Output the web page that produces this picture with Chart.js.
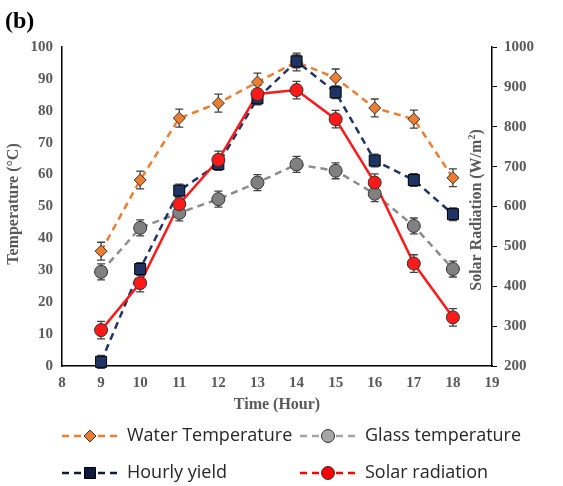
<!DOCTYPE html>
<html>
<head>
<meta charset="utf-8">
<script src="https://cdn.jsdelivr.net/npm/chart.js@4.4.0/dist/chart.umd.min.js"></script>
<style>
  html, body { margin: 0; padding: 0; background: #fff; }
  #wrap { width: 563px; height: 486px; }
</style>
</head>
<body>
<div id="wrap"><canvas id="chart" width="563" height="486"></canvas></div>
<script>
// données
const hours = [9, 10, 11, 12, 13, 14, 15, 16, 17, 18];
const waterTemp = [36, 58.3, 77.7, 82.4, 89, 95.3, 90.3, 80.9, 77.4, 59];
const glassTemp = [29.5, 43.3, 48, 52.3, 57.5, 63.2, 61.2, 54, 43.9, 30.4];
const hourlyYield = [1.3, 30.4, 55, 63.3, 83.9, 95.5, 85.8, 64.4, 58.3, 47.6];
const solarRad = [290, 408, 606, 717, 882, 892, 819, 660, 457, 322];
const waterErr = [2.8, 2.8, 2.8, 2.8, 2.8, 2.8, 2.8, 2.8, 2.8, 2.8];
const glassErr = [2.5, 2.5, 2.5, 2.5, 2.5, 2.5, 2.5, 2.5, 2.5, 2.5];
const yieldErr = [2, 2, 2, 2, 2, 2, 2, 2, 2, 2];
const solarErr = [22, 22, 22, 22, 22, 22, 22, 22, 22, 22];
const xTicks = [8, 19];
const leftTicks = [0, 100];
const rightTicks = [200, 1000];

const tickFont = { family: 'Liberation Serif', weight: 'bold', size: 15 };
const grey = '#595959';

function pts(ys) { return hours.map((h, i) => ({ x: h, y: ys[i] })); }

// barres d'erreur dessinées avec les échelles du graphique
const errorBars = {
  id: 'errorBars',
  afterDatasetsDraw(chart) {
    const ctx = chart.ctx;
    const xs = chart.scales.x;
    ctx.save();
    ctx.strokeStyle = '#404040';
    ctx.lineWidth = 1.3;
    chart.data.datasets.forEach(ds => {
      const ys = chart.scales[ds.yAxisID];
      ds.data.forEach((p, i) => {
        const e = ds.err[i];
        const x = xs.getPixelForValue(p.x);
        const y1 = ys.getPixelForValue(p.y - e);
        const y2 = ys.getPixelForValue(p.y + e);
        ctx.beginPath();
        ctx.moveTo(x, y1); ctx.lineTo(x, y2);
        ctx.moveTo(x - 4, y1); ctx.lineTo(x + 4, y1);
        ctx.moveTo(x - 4, y2); ctx.lineTo(x + 4, y2);
        ctx.stroke();
      });
    });
    ctx.restore();
  }
};

// marqueurs redessinés au-dessus des barres d'erreur
function drawMarker(ctx, style, x, y, fill, border) {
  ctx.fillStyle = fill;
  ctx.strokeStyle = border;
  ctx.lineWidth = 1;
  ctx.setLineDash([]);
  ctx.beginPath();
  if (style === 'rectRot') {
    const r = 6;
    ctx.moveTo(x, y - r); ctx.lineTo(x + r, y); ctx.lineTo(x, y + r); ctx.lineTo(x - r, y); ctx.closePath();
  } else if (style === 'rect') {
    ctx.rect(x - 5.5, y - 5.5, 11, 11);
  } else {
    ctx.arc(x, y, 6.5, 0, Math.PI * 2);
  }
  ctx.fill();
  ctx.stroke();
}

const markersOnTop = {
  id: 'markersOnTop',
  afterDraw(chart) {
    const ctx = chart.ctx;
    ctx.save();
    const order = [1, 0, 2, 3];
    order.forEach(di => {
      const ds = chart.data.datasets[di];
      const meta = chart.getDatasetMeta(di);
      meta.data.forEach(el => {
        drawMarker(ctx, ds.pointStyle, el.x, el.y, ds.pointBackgroundColor, ds.pointBorderColor);
      });
    });
    ctx.restore();
  }
};

// textes : (b), titres d'axes, légende
const extras = {
  id: 'extras',
  afterDraw(chart) {
    const ctx = chart.ctx;
    const a = chart.chartArea;
    ctx.save();
    ctx.fillStyle = '#000';
    ctx.font = 'bold 24px "Liberation Serif"';
    ctx.textAlign = 'left';
    ctx.textBaseline = 'alphabetic';
    ctx.fillText('(b)', 5, 28);

    ctx.fillStyle = grey;
    ctx.font = 'bold 16px "Liberation Serif"';
    ctx.textAlign = 'center';
    ctx.textBaseline = 'middle';
    ctx.fillText('Time (Hour)', (a.left + a.right) / 2, 405);

    ctx.save();
    ctx.translate(14, 204);
    ctx.rotate(-Math.PI / 2);
    ctx.fillText('Temperature (°C)', 0, 0);
    ctx.restore();

    // titre de droite avec exposant
    ctx.save();
    ctx.translate(477, 210);
    ctx.rotate(-Math.PI / 2);
    const main = 'Solar Radiation (W/m';
    ctx.font = 'bold 16px "Liberation Serif"';
    const wMain = ctx.measureText(main).width;
    ctx.font = 'bold 10px "Liberation Serif"';
    const wSup = ctx.measureText('2').width;
    ctx.font = 'bold 16px "Liberation Serif"';
    const wEnd = ctx.measureText(')').width;
    const total = wMain + wSup + wEnd;
    let sx = -total / 2;
    ctx.textAlign = 'left';
    ctx.fillText(main, sx, 0);
    sx += wMain;
    ctx.font = 'bold 10px "Liberation Serif"';
    ctx.fillText('2', sx, -5);
    sx += wSup;
    ctx.font = 'bold 16px "Liberation Serif"';
    ctx.fillText(')', sx, 0);
    ctx.restore();

    const items = [
      { label: 'Water Temperature', line: '#ED7D31', style: 'rectRot', fill: '#ED7D31', border: '#333', x: 62, y: 436 },
      { label: 'Glass temperature', line: '#A5A5A5', style: 'circle', fill: '#A5A5A5', border: '#333', x: 300, y: 436 },
      { label: 'Hourly yield', line: '#0E1A3C', style: 'rect', fill: '#0E1A3C', border: '#000', x: 62, y: 473 },
      { label: 'Solar radiation', line: '#FF0000', style: 'circle', fill: '#FF0000', border: '#333', x: 300, y: 473 }
    ];
    items.forEach(it => {
      ctx.strokeStyle = it.line;
      ctx.lineWidth = 2.5;
      ctx.setLineDash([7, 5]);
      ctx.beginPath();
      ctx.moveTo(it.x, it.y); ctx.lineTo(it.x + 56, it.y);
      ctx.stroke();
      drawMarker(ctx, it.style, it.x + 28, it.y, it.fill, it.border);
      ctx.fillStyle = '#262626';
      ctx.font = '18px "Open Sans"';
      ctx.textAlign = 'left';
      ctx.textBaseline = 'middle';
      ctx.fillText(it.label, it.x + 65, it.y);
    });
    ctx.restore();
  }
};

new Chart(document.getElementById('chart'), {
  type: 'line',
  data: {
    datasets: [
      {
        label: 'Water Temperature', data: pts(waterTemp), err: waterErr, yAxisID: 'y',
        borderColor: '#ED7D31', borderWidth: 2.5, borderDash: [7, 5],
        pointStyle: 'rectRot', pointRadius: 0, pointBackgroundColor: '#ED7D31', pointBorderColor: '#333', order: 3
      },
      {
        label: 'Glass temperature', data: pts(glassTemp), err: glassErr, yAxisID: 'y',
        borderColor: '#8C8C8C', borderWidth: 2.5, borderDash: [7, 5],
        pointStyle: 'circle', pointRadius: 0, pointBackgroundColor: '#808080', pointBorderColor: '#333', order: 4
      },
      {
        label: 'Hourly yield', data: pts(hourlyYield), err: yieldErr, yAxisID: 'y',
        borderColor: '#1F3364', borderWidth: 2.5, borderDash: [7, 5],
        pointStyle: 'rect', pointRadius: 0, pointBackgroundColor: '#1F3364', pointBorderColor: '#000', order: 2
      },
      {
        label: 'Solar radiation', data: pts(solarRad), err: solarErr, yAxisID: 'y2',
        borderColor: '#FF1A1A', borderWidth: 2.5,
        pointStyle: 'circle', pointRadius: 0, pointBackgroundColor: '#FF1A1A', pointBorderColor: '#333', order: 1
      }
    ]
  },
  options: {
    responsive: false,
    animation: false,
    layout: { padding: { top: 47, left: 0, right: 0, bottom: 0 } },
    plugins: { legend: { display: false }, tooltip: { enabled: false } },
    elements: { line: { tension: 0 } },
    scales: {
      x: {
        type: 'linear', min: xTicks[0], max: xTicks[1],
        ticks: { stepSize: 1, color: grey, font: tickFont, padding: 8 },
        grid: { drawOnChartArea: false, drawTicks: false },
        border: { color: '#000', width: 1.5 },
        afterFit(s) { s.height = 120; }
      },
      y: {
        position: 'left', min: leftTicks[0], max: leftTicks[1],
        ticks: { stepSize: 10, color: grey, font: tickFont, padding: 9 },
        grid: { drawOnChartArea: false, drawTicks: false },
        border: { color: '#000', width: 1.5 },
        afterFit(s) { s.width = 62; }
      },
      y2: {
        position: 'right', min: rightTicks[0], max: rightTicks[1],
        ticks: { stepSize: 100, color: grey, font: tickFont, padding: 7, callback: v => String(v) },
        grid: { drawOnChartArea: false, drawTicks: true, tickLength: 5, color: '#000' },
        border: { color: '#000', width: 1.5 },
        afterFit(s) { s.width = 71; }
      }
    }
  },
  plugins: [errorBars, markersOnTop, extras]
});
</script>
</body>
</html>
